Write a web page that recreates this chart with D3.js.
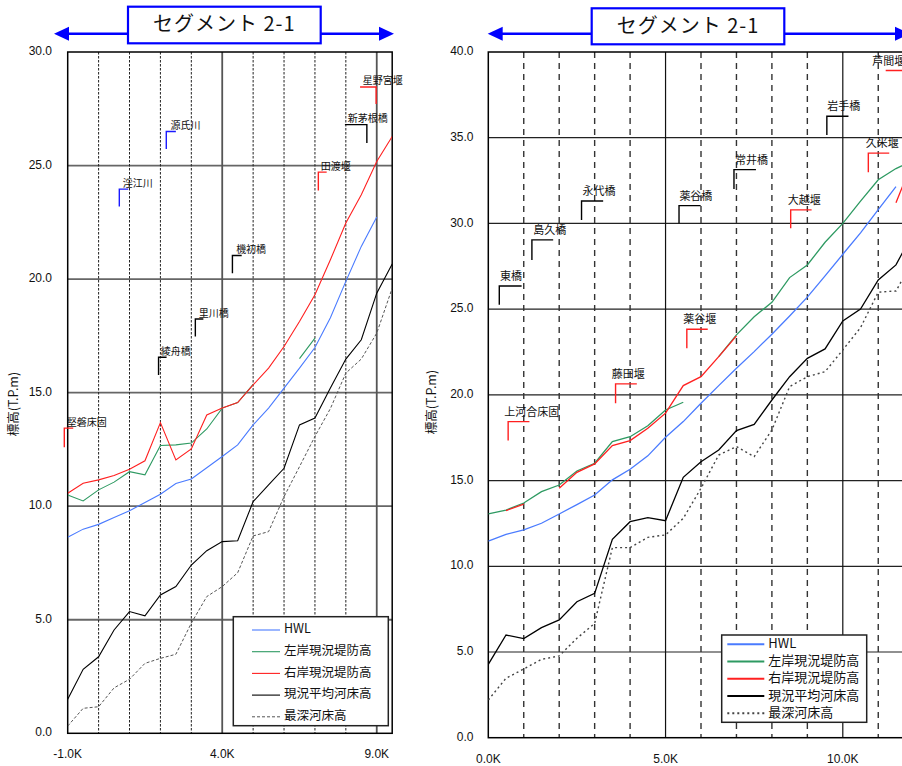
<!DOCTYPE html>
<html>
<head>
<meta charset="utf-8">
<script src="https://cdn.jsdelivr.net/npm/d3@7"></script>
<style>
body { margin: 0; background: #fff; }
text { font-family: "Noto Sans CJK JP", "Noto Sans", sans-serif; fill: #111; }
.tick-label { font-family: "Liberation Sans", Arial, sans-serif; font-size: 12px; }
</style>
</head>
<body>
<svg id="chart" width="902" height="766"></svg>
<script>
// ---- data: left chart (-1.0K .. 9.5K) ----
const left_km = [-1.0, -0.5, 0.0, 0.5, 1.0, 1.5, 2.0, 2.5, 3.0, 3.5, 4.0, 4.5, 5.0, 5.5, 6.0, 6.5, 7.0, 7.5, 8.0, 8.5, 9.0, 9.5];
const left_hwl = [8.63, 8.99, 9.20, 9.50, 9.80, 10.16, 10.53, 11.00, 11.20, 11.69, 12.19, 12.70, 13.58, 14.32, 15.20, 16.08, 16.99, 18.30, 19.90, 21.44, 22.73, null];
const left_leftBank = [10.49, 10.23, 10.72, 11.06, 11.52, 11.38, 12.67, 12.70, 12.78, 13.40, 14.32, 14.56, 15.36, null, null, 16.50, 17.40, null, null, null, null, null];
const left_rightBank = [10.57, 11.01, 11.16, 11.35, 11.63, 12.00, 13.68, 12.04, 12.52, 14.02, 14.32, 14.56, 15.34, 16.08, 17.03, 18.13, 19.31, 20.85, 22.47, 23.71, 25.18, 26.28];
const left_meanBed = [1.50, 2.82, 3.37, 4.55, 5.36, 5.17, 6.09, 6.46, 7.41, 8.04, 8.44, 8.48, 10.20, 10.94, 11.67, 13.58, 13.88, 15.20, 16.48, 17.33, 19.38, 20.67];
const left_deepBed = [0.32, 1.10, 1.17, 2.00, 2.38, 3.08, 3.30, 3.48, 4.85, 6.02, 6.46, 7.07, 8.69, 8.88, 10.42, 11.74, 13.07, 14.30, 15.86, 16.48, 17.62, 19.60];

// ---- data: right chart (0.0K .. 12.0K) ----
const right_km = [0.0, 0.5, 1.0, 1.5, 2.0, 2.5, 3.0, 3.5, 4.0, 4.5, 5.0, 5.5, 6.0, 6.5, 7.0, 7.5, 8.0, 8.5, 9.0, 9.5, 10.0, 10.5, 11.0, 11.5, 12.0];
const right_hwl = [11.47, 11.86, 12.12, 12.51, 13.05, 13.60, 14.16, 15.04, 15.66, 16.44, 17.53, 18.44, 19.51, 20.54, 21.55, 22.52, 23.54, 24.60, 25.70, 26.94, 28.20, 29.45, 30.80, 32.15, null];
const right_leftBank = [13.05, 13.28, 13.69, 14.35, 14.74, 15.56, 16.01, 17.27, 17.56, 18.20, 19.12, 19.57, null, 22.23, 23.50, 24.56, 25.40, 26.84, 27.58, 28.90, 30.00, 31.30, 32.55, 33.20, 33.70];
const right_rightBank = [null, 13.25, 13.63, null, 14.55, 15.48, 15.97, 17.04, 17.33, 18.05, 18.93, 20.54, 21.06, 22.23, 23.44, null, null, null, null, null, null, null, null, 31.20, 33.80];
const right_meanBed = [4.28, 5.99, 5.78, 6.42, 6.87, 7.93, 8.42, 11.57, 12.60, 12.84, 12.66, 15.19, 16.10, 16.78, 17.91, 18.28, 19.70, 21.06, 22.13, 22.68, 24.31, 25.00, 26.70, 27.58, 29.50];
const right_deepBed = [2.20, 3.47, 4.01, 4.57, 4.77, 5.80, 6.67, 11.09, 11.09, 11.69, 11.83, 12.80, 14.55, 16.49, 16.98, 16.40, 17.95, 20.48, 21.06, 21.35, 22.62, 23.92, 25.99, 26.06, 27.90];

// structure marks: km of the leader, top/bottom elevation, hook end km, label start km
const left_marks = [
    { name: "堅磐床固", km: -1.11, top: 13.44, bottom: 12.60, hk: -0.82, tx: -1.03, type: "weir" },
    { name: "淫江川", km: 0.67, top: 23.96, bottom: 23.20, hk: 0.96, tx: 0.78, type: "river" },
    { name: "源氏川", km: 2.19, top: 26.50, bottom: 25.73, hk: 2.50, tx: 2.33, type: "river" },
    { name: "綾舟橋", km: 1.94, top: 16.56, bottom: 15.78, hk: 2.20, tx: 2.01, type: "bridge" },
    { name: "里川橋", km: 3.13, top: 18.24, bottom: 17.47, hk: 3.39, tx: 3.24, type: "bridge" },
    { name: "機初橋", km: 4.33, top: 21.04, bottom: 20.26, hk: 4.63, tx: 4.45, type: "bridge" },
    { name: "田渡堰", km: 7.11, top: 24.71, bottom: 23.90, hk: 7.38, tx: 7.19, type: "weir" },
    { name: "新茅根橋", km: 8.68, top: 26.80, bottom: 25.99, hk: 7.97, tx: 8.06, type: "bridge" },
    { name: "星野宮堰", km: 8.98, top: 28.46, bottom: 27.71, hk: 8.46, tx: 8.55, type: "weir" }
];
const right_marks = [
    { name: "上河合床固", km: 0.56, top: 18.44, bottom: 17.33, hk: 1.16, tx: 0.45, type: "weir" },
    { name: "東橋", km: 0.31, top: 26.35, bottom: 25.25, hk: 0.94, tx: 0.33, type: "bridge" },
    { name: "島久橋", km: 1.23, top: 29.04, bottom: 27.87, hk: 1.83, tx: 1.27, type: "bridge" },
    { name: "永代橋", km: 2.63, top: 31.31, bottom: 30.20, hk: 3.24, tx: 2.66, type: "bridge" },
    { name: "藤田堰", km: 3.59, top: 20.64, bottom: 19.51, hk: 4.19, tx: 3.48, type: "weir" },
    { name: "薬谷橋", km: 5.38, top: 31.04, bottom: 30.01, hk: 5.99, tx: 5.39, type: "bridge" },
    { name: "薬谷堰", km: 5.60, top: 23.83, bottom: 22.72, hk: 6.19, tx: 5.50, type: "weir" },
    { name: "常井橋", km: 6.93, top: 33.14, bottom: 32.01, hk: 7.55, tx: 6.96, type: "bridge" },
    { name: "大越堰", km: 8.53, top: 30.79, bottom: 29.72, hk: 9.12, tx: 8.45, type: "weir" },
    { name: "岩手橋", km: 9.55, top: 36.25, bottom: 35.16, hk: 10.16, tx: 9.56, type: "bridge" },
    { name: "久米堰", km: 10.72, top: 34.10, bottom: 32.99, hk: 11.31, tx: 10.65, type: "weir" },
    { name: "芦間堰", km: 11.90, top: 38.92, bottom: 37.80, hk: 11.21, tx: 10.83, type: "weir" }
];

const series_names = ["HWL", "左岸現況堤防高", "右岸現況堤防高", "現況平均河床高", "最深河床高"];
const segment_title = "セグメント 2-1";
const y_title = "標高(T.P.m)";
const left_xticks = [-1, 4, 9];
const right_xticks = [0, 5, 10];

const mark_color = { weir: "#ff2020", river: "#1a1aff", bridge: "#000" };

const svg = d3.select("#chart");

const panels = [
    {
        id: "L", km: left_km, xDomain: [-1, 9.5], yDomain: [0, 30],
        x0: 67.7, x1: 392.2, y0: 733.3, y1: 52,
        series: [left_hwl, left_leftBank, left_rightBank, left_meanBed, left_deepBed],
        marks: left_marks, xticks: left_xticks,
        hGrid: { stroke: "#666", width: 1.8 }, vSolid: { stroke: "#555", width: 1.8 },
        vDash: { stroke: "#222", width: 1, dash: "2.5,1.5" },
        lineW: 1.1, deepStyle: { stroke: "#555", dash: "3,2", width: 1 },
        markFont: 10, markDy: -2.5,
        legend: { x: 233.3, y: 616.7, w: 155, h: 109, y0: 630, step: 21.7, lx0: 252, lx1: 280, tx: 284, font: 12.5, lw: 1.1 },
        yLabel: { x: 15, y: 404 }, xLabelY: 758, yLabelX: 52,
        title: { bx: 128, by: 6.7, bw: 192.7, bh: 36.6, ay: 33.7, ax0: 54, ax1: 394 }
    },
    {
        id: "R", km: right_km, xDomain: [0, 12], yDomain: [0, 40],
        x0: 488.3, x1: 913.7, y0: 737.7, y1: 52,
        series: [right_hwl, right_leftBank, right_rightBank, right_meanBed, right_deepBed],
        marks: right_marks, xticks: right_xticks,
        hGrid: { stroke: "#222", width: 1.2 }, vSolid: { stroke: "#111", width: 1.2 },
        vDash: { stroke: "#333", width: 1.4, dash: "6,5" },
        lineW: 1.3, deepStyle: { stroke: "#444", dash: "2,3", width: 1.4 },
        markFont: 11, markDy: -6,
        legend: { x: 721.7, y: 635, w: 145, h: 87.3, y0: 644.3, step: 17.25, lx0: 727.3, lx1: 764.3, tx: 768.3, font: 13, lw: 2 },
        yLabel: { x: 433, y: 402 }, xLabelY: 763, yLabelX: 473.5,
        title: { bx: 591.7, by: 8.3, bw: 192.6, bh: 36, ay: 33.7, ax0: 487.7, ax1: 910 }
    }
];

const line_colors = ["#4a7bff", "#2e9a62", "#ff2020", "#000", null];

function draw_panel(p) {
    const g = svg.append("g").attr("id", "panel-" + p.id);
    const x = d3.scaleLinear().domain(p.xDomain).range([p.x0, p.x1]);
    const y = d3.scaleLinear().domain(p.yDomain).range([p.y0, p.y1]);

    g.append("clipPath").attr("id", "clip-" + p.id)
        .append("rect").attr("x", p.x0).attr("y", p.y1).attr("width", p.x1 - p.x0).attr("height", p.y0 - p.y1);

    // horizontal gridlines
    const yt = d3.range(p.yDomain[0] + 5, p.yDomain[1], 5);
    g.selectAll("line.hg").data(yt).join("line").attr("class", "hg")
        .attr("x1", p.x0).attr("x2", p.x1).attr("y1", d => y(d)).attr("y2", d => y(d))
        .attr("stroke", p.hGrid.stroke).attr("stroke-width", p.hGrid.width);

    // vertical gridlines: every 1K, solid every 5K
    const xt = d3.range(p.xDomain[0] + 1, p.xDomain[1], 1);
    g.selectAll("line.vg").data(xt).join("line").attr("class", "vg")
        .attr("x1", d => x(d)).attr("x2", d => x(d)).attr("y1", p.y1).attr("y2", p.y0)
        .each(function(d) {
            const solid = Math.abs((d - p.xDomain[0]) % 5) < 1e-6;
            const st = solid ? p.vSolid : p.vDash;
            d3.select(this).attr("stroke", st.stroke).attr("stroke-width", st.width)
                .attr("stroke-dasharray", solid ? null : st.dash);
        });

    // frame
    g.append("rect").attr("x", p.x0).attr("y", p.y1).attr("width", p.x1 - p.x0).attr("height", p.y0 - p.y1)
        .attr("fill", "none").attr("stroke", "#000").attr("stroke-width", 1.5);

    // series
    const line = d3.line().defined(d => d[1] != null).x(d => x(d[0])).y(d => y(d[1]));
    const lines = g.append("g").attr("clip-path", "url(#clip-" + p.id + ")");
    p.series.forEach((vals, i) => {
        const pts = p.km.map((k, j) => [k, vals[j]]);
        const path = lines.append("path").datum(pts).attr("d", line).attr("fill", "none");
        if (i === 4) {
            path.attr("stroke", p.deepStyle.stroke).attr("stroke-width", p.deepStyle.width)
                .attr("stroke-dasharray", p.deepStyle.dash);
        } else {
            path.attr("stroke", line_colors[i]).attr("stroke-width", p.lineW);
        }
    });

    // structure marks
    const mg = g.append("g");
    p.marks.forEach(m => {
        mg.append("path")
            .attr("d", `M${x(m.hk)},${y(m.top)}H${x(m.km)}V${y(m.bottom)}`)
            .attr("fill", "none").attr("stroke", mark_color[m.type]).attr("stroke-width", 1.4);
        mg.append("text").attr("x", x(m.tx)).attr("y", y(m.top) + p.markDy)
            .attr("font-size", p.markFont).text(m.name);
    });

    // tick labels
    g.selectAll("text.yl").data(d3.range(p.yDomain[0], p.yDomain[1] + 0.1, 5)).join("text")
        .attr("class", "yl tick-label").attr("x", p.yLabelX).attr("y", d => y(d))
        .attr("text-anchor", "end").attr("dominant-baseline", "middle")
        .text(d => d.toFixed(1));
    g.selectAll("text.xl").data(p.xticks).join("text")
        .attr("class", "xl tick-label").attr("x", d => x(d)).attr("y", p.xLabelY)
        .attr("text-anchor", "middle").text(d => d.toFixed(1) + "K");

    g.append("text").attr("transform", `translate(${p.yLabel.x},${p.yLabel.y}) rotate(-90)`)
        .attr("text-anchor", "middle").attr("dominant-baseline", "middle")
        .attr("font-size", 12.5).text(y_title);

    // legend
    const lg = p.legend;
    const leg = g.append("g");
    leg.append("rect").attr("x", lg.x).attr("y", lg.y).attr("width", lg.w).attr("height", lg.h)
        .attr("fill", "#fff").attr("stroke", "#222").attr("stroke-width", 1.5);
    series_names.forEach((name, i) => {
        const yy = lg.y0 + i * lg.step;
        const ln = leg.append("line").attr("x1", lg.lx0).attr("x2", lg.lx1).attr("y1", yy).attr("y2", yy);
        if (i === 4) {
            ln.attr("stroke", p.deepStyle.stroke).attr("stroke-width", p.deepStyle.width + (p.id === "R" ? 0.6 : 0))
                .attr("stroke-dasharray", p.deepStyle.dash);
        } else {
            ln.attr("stroke", line_colors[i]).attr("stroke-width", lg.lw);
        }
        leg.append("text").attr("x", lg.tx).attr("y", yy).attr("dominant-baseline", "middle")
            .attr("font-size", lg.font).text(name);
    });

    // segment title with arrows
    const t = p.title;
    const tg = g.append("g");
    tg.append("line").attr("x1", t.ax0 + 12).attr("x2", t.ax1 - 12).attr("y1", t.ay).attr("y2", t.ay)
        .attr("stroke", "#0000ff").attr("stroke-width", 2.5);
    tg.append("path").attr("d", `M${t.ax0},${t.ay}l15,-7v14z`).attr("fill", "#0000ff");
    tg.append("path").attr("d", `M${t.ax1},${t.ay}l-15,-7v14z`).attr("fill", "#0000ff");
    tg.append("rect").attr("x", t.bx).attr("y", t.by).attr("width", t.bw).attr("height", t.bh)
        .attr("fill", "#fff").attr("stroke", "#0000ff").attr("stroke-width", 2.2);
    tg.append("text").attr("x", t.bx + t.bw / 2).attr("y", t.by + t.bh / 2 + 1)
        .attr("text-anchor", "middle").attr("dominant-baseline", "middle")
        .attr("font-size", 20).attr("letter-spacing", 1).text(segment_title);
}

panels.forEach(draw_panel);
</script>
</body>
</html>
